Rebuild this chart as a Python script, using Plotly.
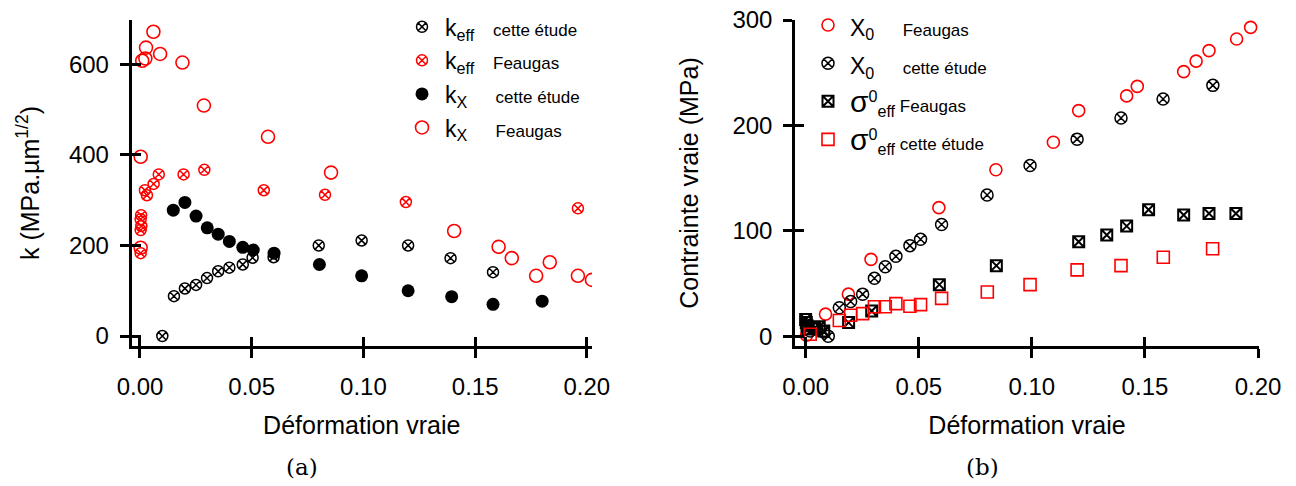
import plotly.graph_objects as go

# ---------------- Left panel (a) data ----------------
keff_ce_x = [0.010, 0.0152, 0.0201, 0.0251, 0.030, 0.035, 0.040, 0.046, 0.0504, 0.0598, 0.080, 0.0992, 0.120, 0.139, 0.158]
keff_ce_y = [0, 88, 105, 113, 128, 143, 151, 158, 173, 174, 200, 211, 200, 172, 141]

keff_fe_x = [0.0003, 0.0005, 0.0003, 0.0006, 0.0003, 0.0022, 0.0031, 0.0061, 0.0084, 0.0195, 0.0288, 0.0554, 0.0828, 0.119, 0.196]
keff_fe_y = [183, 267, 258, 243, 234, 322, 311, 336, 357, 357, 367, 322, 312, 296, 282]

kx_ce_x = [0.0149, 0.0201, 0.0251, 0.0301, 0.035, 0.040, 0.046, 0.0507, 0.060, 0.0803, 0.0992, 0.120, 0.1395, 0.158, 0.180]
kx_ce_y = [278, 295, 265, 239, 225, 209, 196, 190, 183, 158, 133, 100, 87, 70, 77]

kx_fe_x = [0.0003, 0.0003, 0.001, 0.0024, 0.0027, 0.006, 0.009, 0.019, 0.0286, 0.0573, 0.0855,
           0.1406, 0.1605, 0.1664, 0.1773, 0.1834, 0.196, 0.2023]
kx_fe_y = [195, 396, 608, 613, 637, 672, 623, 604, 509, 440, 361, 232, 197, 172, 133, 163, 133, 124]

# ---------------- Right panel (b) data ----------------
x0_fe_x = [0.0004, 0.0088, 0.0189, 0.0289, 0.0589, 0.0841, 0.1095, 0.1207, 0.1419, 0.1466,
           0.1671, 0.1726, 0.1783, 0.1905, 0.1967]
x0_fe_y = [1, 21, 40, 73, 122, 158, 184, 214, 228, 237, 251, 261, 271, 282, 293]

x0_ce_x = [0.002, 0.005, 0.008, 0.010, 0.0149, 0.0199, 0.0252, 0.0304, 0.0352, 0.0399, 0.0461,
           0.0508, 0.0601, 0.0802, 0.0992, 0.120, 0.1394, 0.158, 0.180]
x0_ce_y = [5, 7, 4, 0, 27, 33, 40, 55, 66, 76, 86, 92, 106, 134, 162, 187, 207, 225, 238]

sig_fe_x = [0.0, 0.0003, 0.0006, 0.001, 0.004, 0.006, 0.008, 0.019, 0.0292, 0.0591, 0.0843,
            0.1207, 0.1331, 0.1419, 0.1516, 0.1671, 0.1783, 0.1902]
sig_fe_y = [16, 13, 10, 7, 8, 9, 5, 13, 24, 49, 67, 89.6, 96, 104.5, 120, 115, 116.5, 116.5]

sig_ce_x = [0.002, 0.0149, 0.0199, 0.0252, 0.0304, 0.0352, 0.0399, 0.0461, 0.0508, 0.0601,
            0.0803, 0.0992, 0.120, 0.1394, 0.1581, 0.1799]
sig_ce_y = [2, 15, 20, 21.5, 28, 28, 31, 28.5, 30, 36, 42, 49, 63, 67, 75, 83]

x_ticks = [0.0, 0.05, 0.10, 0.15, 0.20]
x_ticktext = ["0.00", "0.05", "0.10", "0.15", "0.20"]
ya_ticks = [0, 200, 400, 600]
yb_ticks = [0, 100, 200, 300]

RED = "rgb(255,0,0)"
BLK = "black"
FONT = "Liberation Sans, Arial, Helvetica, sans-serif"

# the page body has an 8px margin: the figure spans page pixels 8..1296 x 8..486
OFF = 8
W, H = 1296 - OFF, 486 - OFF


def px(xp):
    return (xp - OFF) / W


def py(yp):
    return 1 - (yp - OFF) / H


def sp(t, size):
    return f"<span style='font-size:{size}px'>{t}</span>"


def nb(n):
    return sp("&nbsp;" * n, 17)


fig = go.Figure()

# left traces
fig.add_trace(go.Scatter(x=keff_ce_x, y=keff_ce_y, mode="markers", xaxis="x", yaxis="y", legend="legend",
                         name=sp("k<sub>eff</sub>", 23) + nb(4) + sp("cette étude", 17),
                         marker=dict(symbol="circle-x-open", size=11, color=BLK, line=dict(width=1.5))))
fig.add_trace(go.Scatter(x=keff_fe_x, y=keff_fe_y, mode="markers", xaxis="x", yaxis="y", legend="legend",
                         name=sp("k<sub>eff</sub>", 23) + nb(4) + sp("Feaugas", 17),
                         marker=dict(symbol="circle-x-open", size=11, color=RED, line=dict(width=1.5))))
fig.add_trace(go.Scatter(x=kx_ce_x, y=kx_ce_y, mode="markers", xaxis="x", yaxis="y", legend="legend",
                         name=sp("k<sub>X</sub>", 23) + nb(6) + sp("cette étude", 17),
                         marker=dict(symbol="circle", size=13, color=BLK)))
fig.add_trace(go.Scatter(x=kx_fe_x, y=kx_fe_y, mode="markers", xaxis="x", yaxis="y", legend="legend",
                         name=sp("k<sub>X</sub>", 23) + nb(6) + sp("Feaugas", 17),
                         marker=dict(symbol="circle-open", size=13, color=RED, line=dict(width=1.6))))

# right traces
fig.add_trace(go.Scatter(x=x0_fe_x, y=x0_fe_y, mode="markers", xaxis="x2", yaxis="y2", legend="legend2",
                         name=sp("X<sub>0</sub>", 23) + nb(6) + sp("Feaugas", 17),
                         marker=dict(symbol="circle-open", size=12, color=RED, line=dict(width=1.6))))
fig.add_trace(go.Scatter(x=x0_ce_x, y=x0_ce_y, mode="markers", xaxis="x2", yaxis="y2", legend="legend2",
                         name=sp("X<sub>0</sub>", 23) + nb(6) + sp("cette étude", 17),
                         marker=dict(symbol="circle-x-open", size=12, color=BLK, line=dict(width=1.5))))
fig.add_trace(go.Scatter(x=sig_fe_x, y=sig_fe_y, mode="markers", xaxis="x2", yaxis="y2", legend="legend2",
                         name=sp("σ", 30) + sp("<sup>0</sup><sub>eff</sub>", 23) + nb(1) + sp("Feaugas", 17),
                         marker=dict(symbol="square-x-open", size=11, color=BLK, line=dict(width=2))))
fig.add_trace(go.Scatter(x=sig_ce_x, y=sig_ce_y, mode="markers", xaxis="x2", yaxis="y2", legend="legend2",
                         name=sp("σ", 30) + sp("<sup>0</sup><sub>eff</sub>", 23) + nb(1) + sp("cette étude", 17),
                         marker=dict(symbol="square-open", size=12, color=RED, line=dict(width=1.6))))

dom_a_x = [px(131.5), px(592)]
dom_b_x = [px(795), px(1259)]
dom_y = [py(346), py(20)]

axis_common = dict(showline=True, linecolor="black", linewidth=2.5, showgrid=False, zeroline=False,
                   ticks="outside", ticklen=9, tickwidth=2.5, tickcolor="black", automargin=False,
                   ticklabeloverflow="allow",
                   tickfont=dict(family=FONT, size=24, color="black"), tickmode="array")
inner_common = dict(showline=False, showgrid=False, zeroline=False, ticks="inside", ticklen=9,
                    tickwidth=2.5, tickcolor="black", showticklabels=False, tickmode="array",
                    automargin=False)

fig.update_layout(
    width=W, height=H,
    margin=dict(l=0, r=0, t=0, b=0, autoexpand=False),
    paper_bgcolor="white", plot_bgcolor="white",
    font=dict(family=FONT, size=17, color="black"),
    xaxis=dict(domain=dom_a_x, range=[-0.0038, 0.2023], anchor="y", tickvals=x_ticks, ticktext=x_ticktext,
               ticklabelstandoff=8,
               title=dict(text="Déformation vraie", font=dict(family=FONT, size=25), standoff=18),
               **axis_common),
    yaxis=dict(domain=dom_y, range=[-22, 698], anchor="x", tickvals=ya_ticks, ticklabelstandoff=6,
               title=dict(text="k (MPa.µm<sup>1/2</sup>)", font=dict(family=FONT, size=25), standoff=23),
               **axis_common),
    xaxis2=dict(domain=dom_b_x, range=[-0.0047, 0.2004], anchor="y2", tickvals=x_ticks, ticktext=x_ticktext,
                ticklabelstandoff=8,
                title=dict(text="Déformation vraie", font=dict(family=FONT, size=25), standoff=18),
                **axis_common),
    yaxis2=dict(domain=dom_y, range=[-9.2, 300], anchor="x2", tickvals=yb_ticks, ticklabelstandoff=6,
                title=dict(text="Contrainte vraie (MPa)", font=dict(family=FONT, size=25), standoff=27),
                **axis_common),
    # inner halves of the crossing ticks
    xaxis3=dict(overlaying="x", matches="x", anchor="y", tickvals=x_ticks, **inner_common),
    yaxis3=dict(overlaying="y", matches="y", anchor="x", tickvals=ya_ticks, **inner_common),
    xaxis4=dict(overlaying="x2", matches="x2", anchor="y2", tickvals=x_ticks, **inner_common),
    yaxis4=dict(overlaying="y2", matches="y2", anchor="x2", tickvals=yb_ticks, **inner_common),
    legend=dict(x=px(399), y=py(5), xanchor="left", yanchor="top", bgcolor="rgba(0,0,0,0)",
                font=dict(family=FONT, size=23.5), itemsizing="trace", itemwidth=36, tracegroupgap=0),
    legend2=dict(x=px(806), y=py(1), xanchor="left", yanchor="top", bgcolor="rgba(0,0,0,0)",
                 font=dict(family=FONT, size=27), itemsizing="trace", itemwidth=34, tracegroupgap=0),
    showlegend=True,
    annotations=[
        dict(text="(a)", x=px(302), y=py(467), xref="paper", yref="paper", showarrow=False,
             xanchor="center", yanchor="middle",
             font=dict(family="DejaVu Serif", size=23, color="black")),
        dict(text="(b)", x=px(982), y=py(467), xref="paper", yref="paper", showarrow=False,
             xanchor="center", yanchor="middle",
             font=dict(family="DejaVu Serif", size=23, color="black")),
    ],
)

# invisible traces to instantiate the overlay axes that draw the inner tick halves
fig.add_trace(go.Scatter(x=[0.1], y=[100], xaxis="x3", yaxis="y3", mode="markers",
                         marker=dict(opacity=0), showlegend=False, hoverinfo="skip"))
fig.add_trace(go.Scatter(x=[0.1], y=[100], xaxis="x4", yaxis="y4", mode="markers",
                         marker=dict(opacity=0), showlegend=False, hoverinfo="skip"))

fig.write_html("out.html")
